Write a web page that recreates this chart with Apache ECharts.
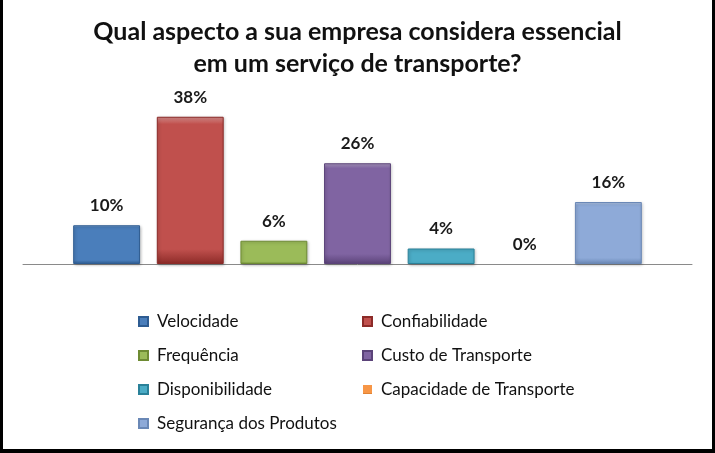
<!DOCTYPE html>
<html>
<head>
<meta charset="utf-8">
<script src="https://cdn.jsdelivr.net/npm/echarts@6/dist/echarts.min.js"></script>
<style>
html,body{margin:0;padding:0;background:#fff;}
#wrap{position:absolute;left:0;top:0;width:715px;height:453px;box-sizing:border-box;border-left:3px solid #000;border-right:3px solid #000;border-bottom:4px solid #000;background:#fff;}
#c{position:absolute;left:0;top:0;width:715px;height:453px;}
</style>
</head>
<body>
<div id="wrap"></div>
<div id="c"></div>
<script>
const titleText = 'Qual aspecto a sua empresa considera essencial\nem um serviço de transporte?';
const seriesNames = ['Velocidade','Confiabilidade','Frequência','Custo de Transporte','Disponibilidade','Capacidade de Transporte','Segurança dos Produtos'];
const values = [10, 38, 6, 26, 4, 0, 16];
const colors = ['#4A7EBB','#C0504D','#9BBB59','#8064A2','#4BACC6','#F79646','#8EAAD8'];
const darkColors = ['#2E5C92','#8C2B28','#6E8B33','#5B4379','#2A8199','#C46A1C','#6A88B6'];
const legendCol1 = ['Velocidade','Frequência','Disponibilidade','Segurança dos Produtos'];
const legendCol2 = ['Confiabilidade','Custo de Transporte','Capacidade de Transporte'];

const FONT = 'Lato';
const chart = echarts.init(document.getElementById('c'), null, {renderer:'canvas'});

function lighten(hex, f){
  const n = parseInt(hex.slice(1),16);
  let r=(n>>16)&255,g=(n>>8)&255,b=n&255;
  r=Math.round(r+(255-r)*f);g=Math.round(g+(255-g)*f);b=Math.round(b+(255-b)*f);
  return 'rgb('+r+','+g+','+b+')';
}

const series = seriesNames.map((name,i)=>({
  name: name,
  type: 'bar',
  data: [values[i]],
  barGap: '25%',
  barCategoryGap: '15%',
  itemStyle: {
    color: new echarts.graphic.LinearGradient(0,0,0,1,[
      {offset:0, color: lighten(colors[i],0.35)},
      {offset:0.05, color: colors[i]},
      {offset:0.9, color: colors[i]},
      {offset:1, color: darkColors[i]}
    ]),
    borderColor: darkColors[i],
    borderWidth: values[i] > 0 ? 1 : 0,
    shadowColor: 'rgba(0,0,0,0.25)',
    shadowBlur: values[i] > 0 ? 3 : 0,
    shadowOffsetX: 1,
    shadowOffsetY: 1
  },
  label: {
    show: true,
    position: 'top',
    distance: 11,
    formatter: '{c}%',
    fontFamily: FONT,
    fontWeight: 'bold',
    fontSize: 17,
    color: '#1a1a1a'
  }
}));

const legendCommon = {
  orient: 'vertical',
  icon: 'rect',
  itemWidth: 9,
  itemHeight: 9,
  itemGap: 17,
  textStyle: {fontFamily: FONT, fontSize: 17, color: '#111', padding:[0,0,0,4]}
};

chart.setOption({
  animation: false,
  color: colors,
  title: {
    text: titleText,
    left: 'center',
    top: 11,
    textStyle: {fontFamily: FONT, fontWeight: 'bold', fontSize: 25, lineHeight: 32, color: '#111'}
  },
  legend: [
    Object.assign({}, legendCommon, {data: legendCol1, left: 133, top: 308}),
    Object.assign({}, legendCommon, {data: legendCol2, left: 357, top: 308})
  ],
  grid: {left: 23, right: 23, top: 109, bottom: 189, containLabel: false},
  xAxis: {
    type: 'category',
    data: [''],
    axisLine: {show: true, lineStyle: {color: '#8a8a8a', width: 1}},
    axisTick: {show: false},
    axisLabel: {show: false}
  },
  yAxis: {
    type: 'value',
    min: 0,
    max: 40,
    interval: 10,
    show: false,
    splitLine: {show: false}
  },
  series: series
});
</script>
</body>
</html>
